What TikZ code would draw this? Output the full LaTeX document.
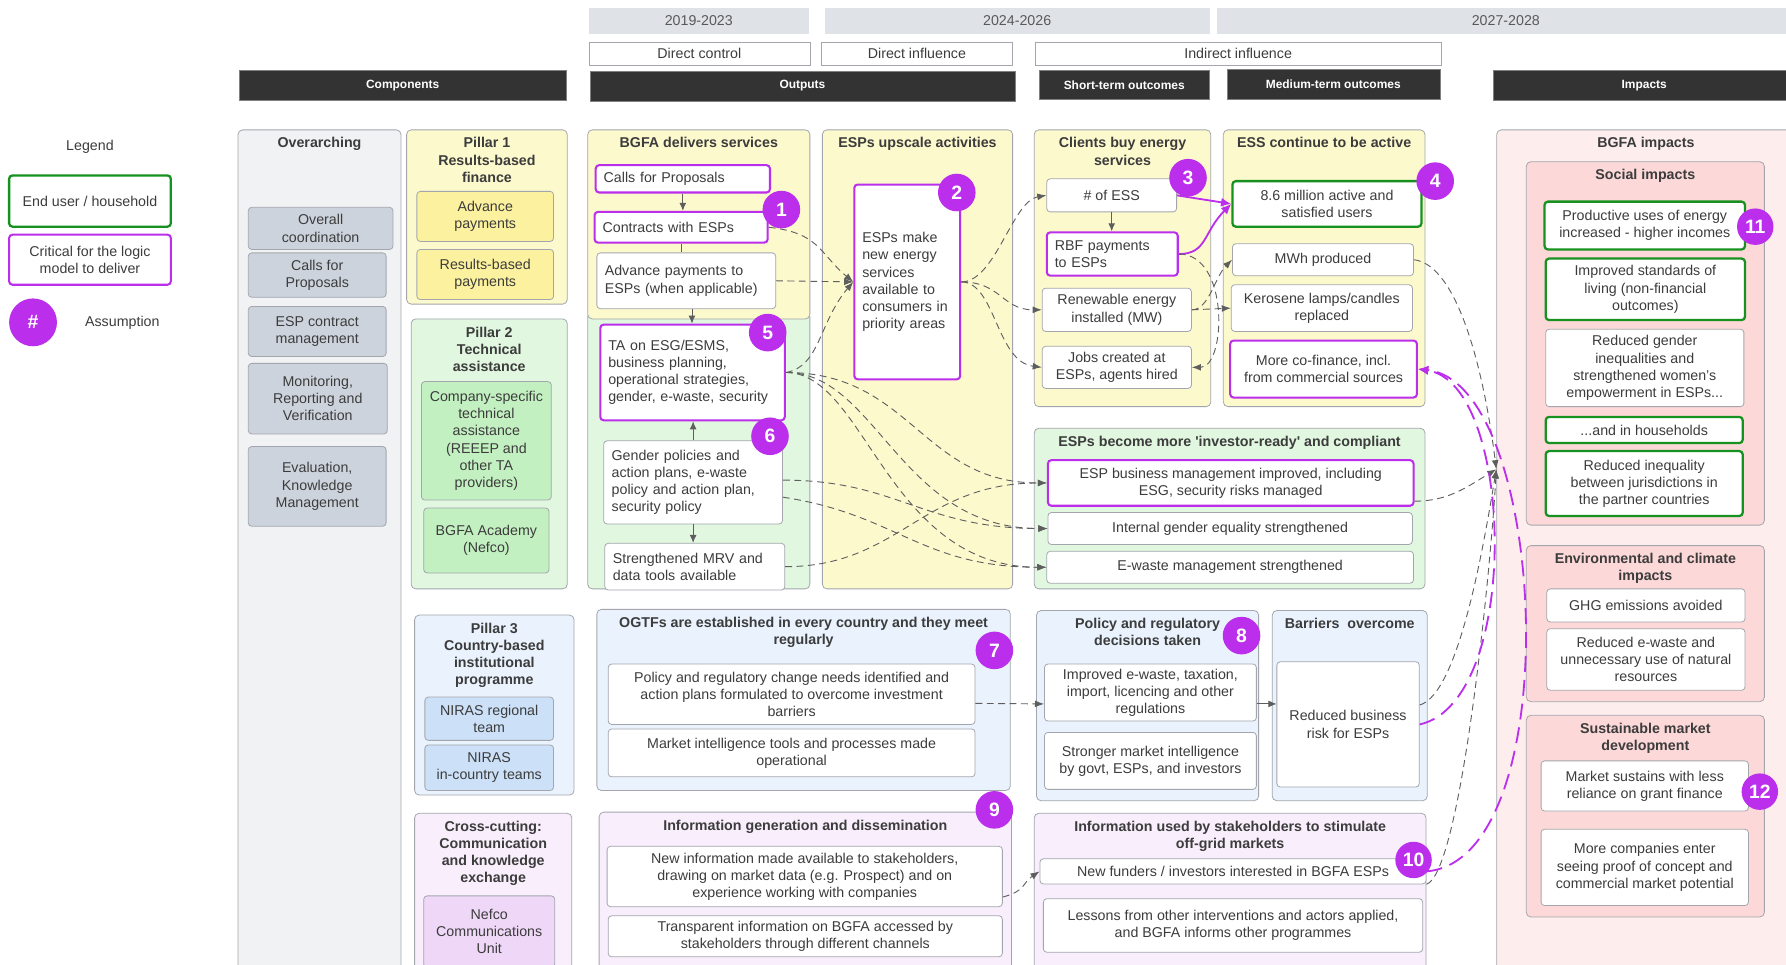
\documentclass[tikz,border=0pt]{standalone}
\usepackage{fontspec}
\setmainfont{Liberation Sans}
\usepackage{xcolor}
\usetikzlibrary{arrows.meta, positioning, calc}

\definecolor{inkgray}{HTML}{3C3C3C}
\definecolor{edgegray}{HTML}{A3A7AD}
\definecolor{hdrgray}{HTML}{333333}
\definecolor{yeargray}{HTML}{DFE2E7}
\definecolor{mag}{HTML}{BB2EEC}
\definecolor{usergreen}{HTML}{17911F}
\definecolor{linegray}{HTML}{5E5E5E}
\definecolor{paleyellow}{HTML}{FCF9CD}
\definecolor{midyellow}{HTML}{FCF19E}
\definecolor{palegray}{HTML}{F1F2F4}
\definecolor{midgray}{HTML}{CDD3DC}
\definecolor{palegreen}{HTML}{E1F7E0}
\definecolor{midgreen}{HTML}{C3F0C1}
\definecolor{paleblue}{HTML}{E9F2FD}
\definecolor{midblue}{HTML}{CCE0F8}
\definecolor{palepink}{HTML}{F9EEFC}
\definecolor{midpink}{HTML}{EFD7F8}
\definecolor{palered}{HTML}{FDEDED}
\definecolor{midred}{HTML}{FCD8D8}

\newcommand{\bodyfs}{\fontsize{12.5}{15}\selectfont}
\newcommand{\hdrfs}{\fontsize{10.5}{12}\selectfont}
\newcommand{\numfs}{\fontsize{17}{17}\selectfont}

\begin{document}
\begin{tikzpicture}[x=1pt, y=-1pt,
    every node/.style={text=inkgray},
    yearbar/.style={fill=yeargray, font=\bodyfs, text=black!65, inner sep=0pt},
    scopebox/.style={draw=edgegray, fill=white, font=\bodyfs, inner sep=0pt},
    hdrbar/.style={draw=black!50, fill=hdrgray, text=white, font=\hdrfs\bfseries, inner sep=0pt},
    group/.style={draw=edgegray, rounded corners=4pt, line width=0.7pt, inner sep=0pt},
    grouptitle/.style={font=\bodyfs\bfseries, align=center, inner sep=1pt},
    item/.style={draw=edgegray, fill=white, rounded corners=3pt, line width=0.7pt, align=center, font=\bodyfs, inner sep=1pt},
    leftitem/.style={item, align=left, inner xsep=7pt},
    critbox/.style={draw=mag, line width=1.8pt},
    userbox/.style={draw=usergreen, line width=2pt},
    num/.style={circle, fill=mag, text=white, font=\numfs\bfseries, minimum size=33pt, inner sep=0pt},
    link/.style={draw=linegray, line width=0.8pt, dash pattern=on 6pt off 4pt, -{Latex[length=8pt, width=6pt]}},
    solidlink/.style={draw=linegray, line width=0.8pt, -{Latex[length=7pt, width=6pt]}},
    critlink/.style={draw=mag, line width=1.6pt, -{Latex[length=9pt, width=8pt]}},
    critdash/.style={critlink, dash pattern=on 14pt off 7pt}
]
\useasboundingbox (0,0) rectangle (1568,847);
\fill[white] (0,0) rectangle (1568,847);
\clip (0,0) rectangle (1568,847);

% Time frames and levels of control
\node[yearbar, minimum width=193pt, minimum height=23pt] (yr1) at (613.5,18.5) {2019-2023};
\node[yearbar, minimum width=338pt, minimum height=23pt] (yr2) at (893,18.5) {2024-2026};
\node[yearbar, minimum width=508pt, minimum height=23pt] (yr3) at (1322,18.5) {2027-2028};

\node[scopebox, minimum width=194pt, minimum height=20pt] (ctrl) at (614,47) {Direct control};
\node[scopebox, minimum width=168pt, minimum height=20pt] (dinf) at (805,47) {Direct influence};
\node[scopebox, minimum width=356pt, minimum height=20pt] (iinf) at (1087,47) {Indirect influence};

% Column headers
\node[hdrbar, minimum width=287pt, minimum height=26pt] (hcomp) at (353.5,75) {Components};
\node[hdrbar, minimum width=373pt, minimum height=26pt] (hout) at (704.5,75.5) {Outputs};
\node[hdrbar, minimum width=150pt, minimum height=26pt] (hshort) at (987,74.5) {Short-term outcomes};
\node[hdrbar, minimum width=187pt, minimum height=26pt] (hmed) at (1170.5,74) {Medium-term outcomes};
\node[hdrbar, minimum width=265pt, minimum height=26pt] (himp) at (1443.5,75) {Impacts};

% Legend
\node[font=\bodyfs] (legtitle) at (79,129) {Legend};
\node[item, userbox, minimum width=142pt, minimum height=45pt] (leguser) at (79,176.5) {End user / household};
\node[item, critbox, minimum width=142pt, minimum height=44pt] (legcrit) at (79,228) {Critical for the logic\\model to deliver};
\node[num, minimum size=42pt] (legnum) at (29,283) {\#};
\node[font=\bodyfs, right=21pt of legnum] (legtext) {Assumption};

% Components
\node[group, fill=palegray, minimum width=143pt, minimum height=746pt] (gover) at (280.5,487) {};
\node[grouptitle, below=6pt of gover.north] (gover-t) {Overarching};
\node[group, fill=paleyellow, minimum width=141pt, minimum height=153pt] (gp1) at (427.5,190.5) {};
\node[grouptitle, below=6pt of gp1.north] (gp1-t) {Pillar 1\\Results-based\\finance};
\node[group, fill=palegreen, minimum width=137pt, minimum height=237pt] (gp2) at (429.5,398.5) {};
\node[grouptitle, below=6pt of gp2.north] (gp2-t) {Pillar 2\\Technical\\assistance};
\node[group, fill=paleblue, minimum width=140pt, minimum height=158pt] (gp3) at (434,619) {};
\node[grouptitle, below=6pt of gp3.north] (gp3-t) {Pillar 3\\Country-based\\institutional\\programme};
\node[group, fill=palepink, minimum width=138pt, minimum height=146pt] (gcross) at (433,787) {};
\node[grouptitle, below=6pt of gcross.north] (gcross-t) {Cross-cutting:\\Communication\\and knowledge\\exchange};

% Outputs
\node[group, fill=palegreen, minimum width=195pt, minimum height=243pt] (gbgfa2) at (613.5,395.5) {};
\node[group, fill=paleyellow, minimum width=195pt, minimum height=166pt] (gbgfa) at (613.5,197) {};
\node[grouptitle, below=6pt of gbgfa.north] (gbgfa-t) {BGFA delivers services};
\node[group, fill=paleyellow, minimum width=167pt, minimum height=403pt] (gups) at (805.5,315.5) {};
\node[grouptitle, below=6pt of gups.north] (gups-t) {ESPs upscale activities};
\node[group, fill=paleblue, minimum width=363pt, minimum height=159pt] (gogtf) at (705.5,614.5) {};
\node[grouptitle, below=6pt of gogtf.north] (gogtf-t) {OGTFs are established in every country and they meet\\regularly};
\node[group, fill=palepink, minimum width=362pt, minimum height=147pt] (ginfogen) at (707,786.5) {};
\node[grouptitle, below=6pt of ginfogen.north] (ginfogen-t) {Information generation and dissemination};

% Outcomes
\node[group, fill=paleyellow, minimum width=155pt, minimum height=243pt] (gclients) at (985.5,235.5) {};
\node[grouptitle, below=6pt of gclients.north] (gclients-t) {Clients buy energy\\services};
\node[group, fill=paleyellow, minimum width=177pt, minimum height=243pt] (gactive) at (1162.5,235.5) {};
\node[grouptitle, below=6pt of gactive.north] (gactive-t) {ESS continue to be active};
\node[group, fill=palegreen, minimum width=343pt, minimum height=141pt] (gready) at (1079.5,446.5) {};
\node[grouptitle, below=6pt of gready.north] (gready-t) {ESPs become more \textquotesingle investor-ready\textquotesingle{} and compliant};
\node[group, fill=paleblue, minimum width=195pt, minimum height=167pt] (gpolicy) at (1007.5,619.5) {};
\node[grouptitle, below=6pt of gpolicy.north] (gpolicy-t) {Policy and regulatory\\decisions taken};
\node[group, fill=paleblue, minimum width=136pt, minimum height=167pt] (gbarr) at (1185,619.5) {};
\node[grouptitle, below=6pt of gbarr.north] (gbarr-t) {Barriers\ \ overcome};
\node[group, fill=palepink, minimum width=344pt, minimum height=146pt] (ginfoused) at (1080,787) {};
\node[grouptitle, below=6pt of ginfoused.north] (ginfoused-t) {Information used by stakeholders to stimulate\\off-grid markets};

% Impacts
\node[group, fill=palered, minimum width=262pt, minimum height=746pt] (gimp) at (1445,487) {};
\node[grouptitle, below=6pt of gimp.north] (gimp-t) {BGFA impacts};
\node[group, fill=midred, minimum width=209pt, minimum height=319pt] (gsocial) at (1444.5,301.5) {};
\node[grouptitle, below=6pt of gsocial.north] (gsocial-t) {Social impacts};
\node[group, fill=midred, minimum width=209pt, minimum height=137pt] (genv) at (1444.5,547.5) {};
\node[grouptitle, below=6pt of genv.north] (genv-t) {Environmental and climate\\impacts};
\node[group, fill=midred, minimum width=209pt, minimum height=177pt] (gsust) at (1444.5,716.5) {};
\node[grouptitle, below=6pt of gsust.north] (gsust-t) {Sustainable market\\development};

% Overarching items
\node[item, fill=midgray, minimum width=127pt, minimum height=37pt] (ov1) at (281.5,200.5) {Overall\\coordination};
\node[item, fill=midgray, minimum width=121pt, minimum height=39pt] (ov2) at (278.5,241.5) {Calls for\\Proposals};
\node[item, fill=midgray, minimum width=121pt, minimum height=44pt] (ov3) at (278.5,291) {ESP contract\\management};
\node[item, fill=midgray, minimum width=122pt, minimum height=62pt] (ov4) at (279,350) {Monitoring,\\Reporting and\\Verification};
\node[item, fill=midgray, minimum width=121pt, minimum height=70pt] (ov5) at (278.5,427) {Evaluation,\\Knowledge\\Management};

% Pillar items
\node[item, fill=midyellow, minimum width=120pt, minimum height=44pt] (p1a) at (426,190) {Advance\\payments};
\node[item, fill=midyellow, minimum width=120pt, minimum height=44pt] (p1b) at (426,241) {Results-based\\payments};
\node[item, fill=midgreen, minimum width=114pt, minimum height=104pt] (p2a) at (427,387) {Company-specific\\technical\\assistance\\(REEEP and\\other TA\\providers)};
\node[item, fill=midgreen, minimum width=110pt, minimum height=57pt] (p2b) at (427,474.5) {BGFA Academy\\(Nefco)};
\node[item, fill=midblue, minimum width=113pt, minimum height=38pt] (p3a) at (429.5,631) {NIRAS regional\\team};
\node[item, fill=midblue, minimum width=113pt, minimum height=40pt] (p3b) at (429.5,674) {NIRAS\\in-country teams};
\node[item, fill=midpink, minimum width=115pt, minimum height=63pt] (cc1) at (429.5,818) {Nefco\\Communications\\Unit};

% BGFA delivers services
\node[leftitem, critbox, text width=139pt, minimum height=24pt] (cfp) at (599.5,157) {Calls for Proposals};
\node[leftitem, critbox, text width=138pt, minimum height=27pt] (cwe) at (598,199.5) {Contracts with ESPs};
\node[leftitem, text width=143pt, minimum height=49pt] (adv) at (602.5,246.5) {Advance payments to\\ESPs (when applicable)};
\node[leftitem, critbox, text width=148pt, minimum height=84pt] (ta) at (608,327) {TA on ESG/ESMS,\\business planning,\\operational strategies,\\gender, e-waste, security};
\node[leftitem, text width=143pt, minimum height=73pt] (gp) at (608.5,423.5) {Gender policies and\\action plans, e-waste\\policy and action plan,\\security policy};
\node[leftitem, text width=144pt, minimum height=41pt] (mrv) at (610,497.5) {Strengthened MRV and\\data tools available};

% ESPs upscale
\node[leftitem, critbox, text width=79pt, minimum height=171pt] (esp) at (796.5,247.5) {ESPs make\\new energy\\services\\available to\\consumers in\\priority areas};

% Clients buy energy services
\node[item, minimum width=114pt, minimum height=29pt] (ess) at (976,171.5) {\# of ESS};
\node[leftitem, critbox, text width=101pt, minimum height=38pt] (rbf) at (976.5,223) {RBF payments\\to ESPs};
\node[item, minimum width=131pt, minimum height=38pt] (ren) at (980.5,272) {Renewable energy\\installed (MW)};
\node[item, minimum width=131pt, minimum height=37pt] (jobs) at (980.5,322.5) {Jobs created at\\ESPs, agents hired};

% ESS continue to be active
\node[item, userbox, minimum width=166pt, minimum height=40pt] (users) at (1165,179) {8.6 million active and\\satisfied users};
\node[item, minimum width=159pt, minimum height=28pt] (mwh) at (1161.5,228) {MWh produced};
\node[item, minimum width=159pt, minimum height=41pt] (kero) at (1160.5,270.5) {Kerosene lamps/candles\\replaced};
\node[item, critbox, minimum width=164pt, minimum height=50pt] (cofin) at (1162,324) {More co-finance, incl.\\from commercial sources};

% ESPs become investor-ready
\node[item, critbox, minimum width=321pt, minimum height=40pt] (bizm) at (1080.5,424) {ESP business management improved, including\\ESG, security risks managed};
\node[item, minimum width=320pt, minimum height=28pt] (geq) at (1080,464) {Internal gender equality strengthened};
\node[item, minimum width=322pt, minimum height=28pt] (ewm) at (1080,498) {E-waste management strengthened};

% OGTFs
\node[item, minimum width=322pt, minimum height=53pt] (pneeds) at (695,609.5) {Policy and regulatory change needs identified and\\action plans formulated to overcome investment\\barriers};
\node[item, minimum width=322pt, minimum height=42pt] (mint) at (695,661) {Market intelligence tools and processes made\\operational};

% Policy and barriers
\node[item, minimum width=186pt, minimum height=50pt] (impr) at (1010,608) {Improved e-waste, taxation,\\import, licencing and other\\regulations};
\node[item, minimum width=186pt, minimum height=50pt] (strong) at (1010,668) {Stronger market intelligence\\by govt, ESPs, and investors};
\node[item, minimum width=125pt, minimum height=110pt] (risk) at (1183.5,636) {Reduced business\\risk for ESPs};

% Information
\node[item, minimum width=347pt, minimum height=53pt] (newinfo) at (706.5,769.5) {New information made available to stakeholders,\\drawing on market data (e.g. Prospect) and on\\experience working with companies};
\node[item, minimum width=346pt, minimum height=36pt] (transp) at (707,822) {Transparent information on BGFA accessed by\\stakeholders through different channels};
\node[item, minimum width=339pt, minimum height=22pt] (funders) at (1082.5,765) {New funders / investors interested in BGFA ESPs};
\node[item, minimum width=333pt, minimum height=47pt] (lessons) at (1082.5,812.5) {Lessons from other interventions and actors applied,\\and BGFA informs other programmes};

% Impact items
\node[item, userbox, minimum width=176pt, minimum height=42pt] (puse) at (1444,198) {Productive uses of energy\\increased - higher incomes};
\node[item, userbox, minimum width=175pt, minimum height=54pt] (living) at (1444.5,254) {Improved standards of\\living (non-financial\\outcomes)};
\node[item, minimum width=174pt, minimum height=68pt] (wgender) at (1444,323) {Reduced gender\\inequalities and\\strengthened women's\\empowerment in ESPs...};
\node[item, userbox, minimum width=173pt, minimum height=23pt] (hh) at (1443.5,377.5) {...and in households};
\node[item, userbox, minimum width=173pt, minimum height=57pt] (ineq) at (1443.5,424.5) {Reduced inequality\\between jurisdictions in\\the partner countries};
\node[item, minimum width=174pt, minimum height=29pt] (ghg) at (1445,531.5) {GHG emissions avoided};
\node[item, minimum width=174pt, minimum height=54pt] (ewaste) at (1445,579) {Reduced e-waste and\\unnecessary use of natural\\resources};
\node[item, minimum width=182pt, minimum height=44pt] (grant) at (1444,690) {Market sustains with less\\reliance on grant finance};
\node[item, minimum width=182pt, minimum height=67pt] (morecos) at (1444,761.5) {More companies enter\\seeing proof of concept and\\commercial market potential};

% Solid links inside groups
\draw[solidlink] (cfp.south) -- (cfp.south |- cwe.north);
\draw[draw=linegray, line width=0.8pt] (cwe.south) -- (cwe.south |- adv.north);
\draw[solidlink] ([xshift=5pt]adv.south) -- ([xshift=5pt]adv.south |- ta.north);
\draw[solidlink] (gp.north) -- (gp.north |- ta.south);
\draw[solidlink] (gp.south) -- (gp.south |- mrv.north);
\draw[solidlink] (ess.south) -- (ess.south |- rbf.north);
\draw[solidlink] ([yshift=-10pt]impr.east) -- ([yshift=-10pt]impr.east -| risk.west);

% Outputs to ESPs make
\draw[link] (cwe.east) .. controls +(45,5) and +(-30,-25) .. (esp.west);
\draw[link] (adv.east) -- (esp.west);
\draw[link] (ta.east) .. controls +(30,-5) and +(-30,35) .. (esp.west);

% ESPs make to clients
\draw[link] (esp.east) .. controls +(30,0) and +(-30,5) .. (ess.west);
\draw[link] (esp.east) .. controls +(35,0) and +(-35,0) .. (ren.west);
\draw[link] (esp.east) .. controls +(30,0) and +(-40,-5) .. (jobs.west);

% Clients to ESS active
\draw[critlink] (ess.east) -- (users.west);
\draw[critlink] (rbf.east) .. controls +(25,0) and +(-25,25) .. (users.west);
\draw[link] (rbf.east) .. controls +(45,0) and +(30,0) .. (jobs.east);
\draw[link] (ren.east) .. controls +(15,0) and +(-15,15) .. (mwh.west);
\draw[link] (ren.east) -- (kero.west);

% TA and policies to investor-ready
\draw[link] (ta.east) .. controls +(110,0) and +(-110,0) .. (bizm.west);
\draw[link] (ta.east) .. controls +(80,0) and +(-130,0) .. (geq.west);
\draw[link] (ta.east) .. controls +(70,0) and +(-140,0) .. (ewm.west);
\draw[link] ([yshift=2pt]gp.east) .. controls +(100,0) and +(-110,0) .. (geq.west);
\draw[link] ([yshift=-13pt]gp.east) .. controls +(100,15) and +(-110,0) .. (ewm.west);
\draw[link] (mrv.east) .. controls +(100,0) and +(-110,0) .. (bizm.west);

% OGTFs and information
\draw[link] ([yshift=-8pt]pneeds.east) -- ([yshift=-10pt]impr.west);
\draw[link] ([yshift=-18pt]newinfo.east) .. controls +(20,-5) and +(-15,10) .. (funders.west);

% Towards impacts
\coordinate (impin) at ([yshift=75pt]gimp.west);
\draw[link] (mwh.east) .. controls +(40,5) and +(-10,-80) .. (impin);
\draw[link] ([yshift=-16pt]bizm.east) .. controls +(30,0) and +(-25,15) .. (impin);
\draw[link] ([yshift=17pt]risk.east) .. controls +(35,-10) and +(-10,60) .. (impin);
\draw[link] (funders.south east) .. controls +(30,-10) and +(-5,90) .. (impin);

% Critical feedback to co-finance
\draw[critdash] (risk.east) .. controls +(90,-20) and +(85,12) .. (cofin.east);
\draw[critdash] (funders.east) .. controls +(125,-10) and +(115,12) .. (cofin.east);

% Assumptions
\node[num] (n1) at (686,184) {1};
\node[num] (n2) at (840,169) {2};
\node[num] (n3) at (1043,156) {3};
\node[num] (n4) at (1260,159) {4};
\node[num] (n5) at (674,292) {5};
\node[num] (n6) at (676,383) {6};
\node[num] (n7) at (873,571) {7};
\node[num] (n8) at (1090,558) {8};
\node[num] (n9) at (873,711) {9};
\node[num, minimum size=32pt] (n10) at (1241,755) {10};
\node[num, minimum size=32pt] (n11) at (1541,199) {11};
\node[num, minimum size=32pt] (n12) at (1545,695) {12};

\end{tikzpicture}
\end{document}
